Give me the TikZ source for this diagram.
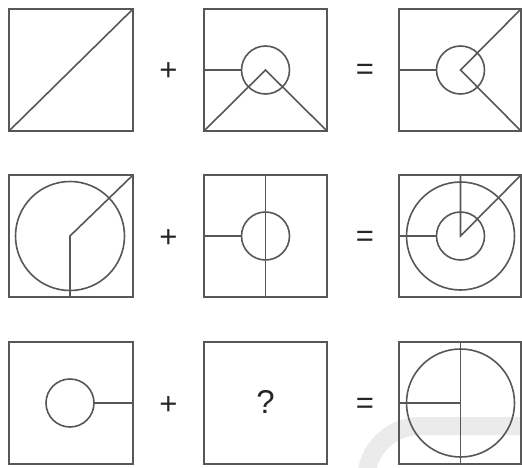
\documentclass[tikz,border=0pt]{standalone}
\usepackage{fontspec}
\setmainfont{Liberation Sans}
\begin{document}
\begin{tikzpicture}[x=1pt,y=-1pt,
  fig/.style={draw=black!66,line width=1.6pt},
  sign/.style={inner sep=0pt,text=black!85,font=\fontsize{31}{31}\selectfont},
  qmark/.style={inner sep=0pt,text=black!85,font=\fontsize{33}{33}\selectfont}]
\useasboundingbox (0,0) rectangle (522,468);
% watermark
\begin{scope}
\clip (0,0) rectangle (522,468);
\draw[black!8,line width=18pt] (366,490) -- (366,480) arc[start angle=180,end angle=270,radius=54] -- (530,426);
\end{scope}
% row 1
\draw[fig] (9,9) rectangle (133,131);
\draw[fig] (9,131) -- (133,9);
\draw[fig] (204,9) rectangle (327,131);
\draw[fig] (265.5,70) circle[radius=24];
\draw[fig] (204,70) -- (241.5,70);
\draw[fig] (204,131) -- (265.5,70) -- (327,131);
\draw[fig] (399,9) rectangle (521,131);
\draw[fig] (460.5,70) circle[radius=24];
\draw[fig] (399,70) -- (436.5,70);
\draw[fig] (521,9) -- (460.5,70) -- (521,131);
\node[sign] (p1) at (168.5,71.5) {+};
\node[sign] (e1) at (365,72) {=};
% row 2
\draw[fig] (9,175) rectangle (133,297);
\draw[fig] (70,236) circle[radius=54.5];
\draw[fig] (70,297) -- (70,236) -- (133,175);
\draw[fig] (204,175) rectangle (327,297);
\draw[fig] (265.5,175) -- (265.5,297);
\draw[fig] (265.5,236) circle[radius=24];
\draw[fig] (204,236) -- (241.5,236);
\draw[fig] (399,175) rectangle (521,297);
\draw[fig] (460.5,236) circle[radius=54];
\draw[fig] (460.5,236) circle[radius=24];
\draw[fig] (460.5,175) -- (460.5,236) -- (521,175);
\draw[fig] (399,236) -- (436.5,236);
\node[sign] (p2) at (168.5,238.5) {+};
\node[sign] (e2) at (365,239) {=};
% row 3
\draw[fig] (9,342) rectangle (133,464);
\draw[fig] (70,403) circle[radius=24];
\draw[fig] (94,403) -- (133,403);
\draw[fig] (204,342) rectangle (327,464);
\node[qmark] (q) at (265.5,402) {?};
\draw[fig] (399,342) rectangle (521,464);
\draw[fig] (460.5,403) circle[radius=54];
\draw[fig] (460.5,342) -- (460.5,464);
\draw[fig] (399,403) -- (460.5,403);
\node[sign] (p3) at (168.5,405.5) {+};
\node[sign] (e3) at (365,406) {=};
\end{tikzpicture}
\end{document}
